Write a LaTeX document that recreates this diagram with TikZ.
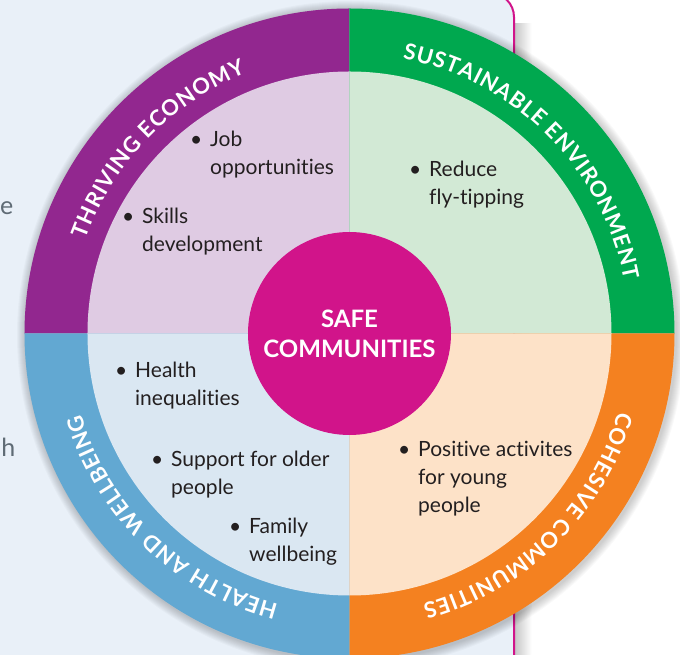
\documentclass[tikz,border=0pt]{standalone}
\usepackage{fontspec}
\setmainfont{Lato}[Ligatures=NoCommon]
\usetikzlibrary{decorations.text}
\definecolor{panelbg}{HTML}{E9F0F8}
\definecolor{magentaC}{HTML}{D1148A}
\definecolor{purpleO}{HTML}{92278F}
\definecolor{purpleI}{HTML}{DFCBE3}
\definecolor{greenO}{HTML}{00A84F}
\definecolor{greenI}{HTML}{D2E9D5}
\definecolor{orangeO}{HTML}{F48120}
\definecolor{orangeI}{HTML}{FDE2C8}
\definecolor{blueO}{HTML}{62A8D2}
\definecolor{blueI}{HTML}{DAE7F2}
\definecolor{txt}{HTML}{231F20}
\definecolor{fragC}{HTML}{5F6B75}
\newcommand{\ringfont}{\fontsize{22}{22}\selectfont\bfseries}
\newcommand{\bitem}[1]{\begin{tabular}[t]{@{}l@{}}#1\end{tabular}}
\newcommand{\bul}{\llap{\textbullet\hspace{8pt}}}
\tikzset{
  item/.style={anchor=base west, inner sep=0pt, text=txt, font=\fontsize{21}{28}\selectfont},
  ringlabel/.style={font=\ringfont, decorate, decoration={text effects along path, text align=center,
     text effects/.cd, text along path,
     characters={text=white, font=\ringfont, anchor=base, inner xsep=0.4pt, inner ysep=0pt},
     character widths={font=\ringfont, inner xsep=0.4pt, inner ysep=0pt}}},
  frag/.style={anchor=base east, inner sep=0pt, text=fragC, font=\fontsize{25}{30}\selectfont}
}
\begin{document}
\begin{tikzpicture}[x=1pt,y=1pt]
\useasboundingbox (-349.5,-321.5) rectangle (330.5,333.5);
% background panel with shadow
\shade[left color=black!22, right color=white] (165.5,-330) rectangle (182,320);
\fill[white] (165.5,310) rectangle (190,345);
\filldraw[fill=panelbg, draw=magentaC, line width=2pt, rounded corners=24pt] (-400,-400) rectangle (164.5,340.5);
% fragments of text at the left edge
\node[frag] (fe) at (-336,118.5) {e};
\node[frag] (fh) at (-334,-123.5) {h};
% circle shadow
\foreach \k in {1,...,9} {
  \fill[black, opacity=0.025] (1.5,-1.5) circle[radius={(325+\k)*1pt}];
}
% outer ring sectors
\fill[purpleO] (0,0) -- (180:325pt) arc[start angle=180, end angle=90, radius=325pt] -- cycle;
\fill[greenO] (0,0) -- (90:325pt) arc[start angle=90, end angle=0, radius=325pt] -- cycle;
\fill[orangeO] (0,0) -- (0:325pt) arc[start angle=0, end angle=-90, radius=325pt] -- cycle;
\fill[blueO] (0,0) -- (270:325pt) arc[start angle=270, end angle=180, radius=325pt] -- cycle;
% inner sectors
\fill[purpleI] (0,0) -- (180:262pt) arc[start angle=180, end angle=90, radius=262pt] -- cycle;
\fill[greenI] (0,0) -- (90:262pt) arc[start angle=90, end angle=0, radius=262pt] -- cycle;
\fill[orangeI] (0,0) -- (0:262pt) arc[start angle=0, end angle=-90, radius=262pt] -- cycle;
\fill[blueI] (0,0) -- (270:262pt) arc[start angle=270, end angle=180, radius=262pt] -- cycle;
% ring labels
\path[ringlabel, decoration={text={THRIVING ECONOMY}}]
  (196:280pt) arc[start angle=196, end angle=76, radius=280pt];
\path[ringlabel, decoration={text={SUSTAINABLE ENVIRONMENT}}]
  (110:280pt) arc[start angle=110, end angle=-20, radius=280pt];
\path[ringlabel, decoration={text={COHESIVE COMMUNITIES}}]
  (14.5:280pt) arc[start angle=14.5, end angle=-105.5, radius=280pt];
\path[ringlabel, decoration={text={HEALTH AND WELLBEING}}]
  (286:280pt) arc[start angle=286, end angle=166, radius=280pt];
% centre
\node[circle, fill=magentaC, minimum size=203pt, inner sep=0pt, text=white, align=center,
  font=\fontsize{24}{30}\selectfont\bfseries] (safe) at (0,0) {SAFE\\COMMUNITIES};
% bullet items
\node[item] (job) at (-139.5,186.8) {\bitem{\bul Job\\opportunities}};
\node[item] (skills) at (-207.5,109.5) {\bitem{\bul Skills\\development}};
\node[item] (reduce) at (79.5,156.8) {\bitem{\bul Reduce\\fly-tipping}};
\node[item] (health) at (-214.5,-44.5) {\bitem{\bul Health\\inequalities}};
\node[item] (support) at (-178.5,-133.2) {\bitem{\bul Support for older\\people}};
\node[item] (family) at (-100.5,-200.5) {\bitem{\bul Family\\wellbeing}};
\node[item] (positive) at (68.5,-123.2) {\bitem{\bul Positive activites\\for young\\people}};
\end{tikzpicture}
\end{document}
